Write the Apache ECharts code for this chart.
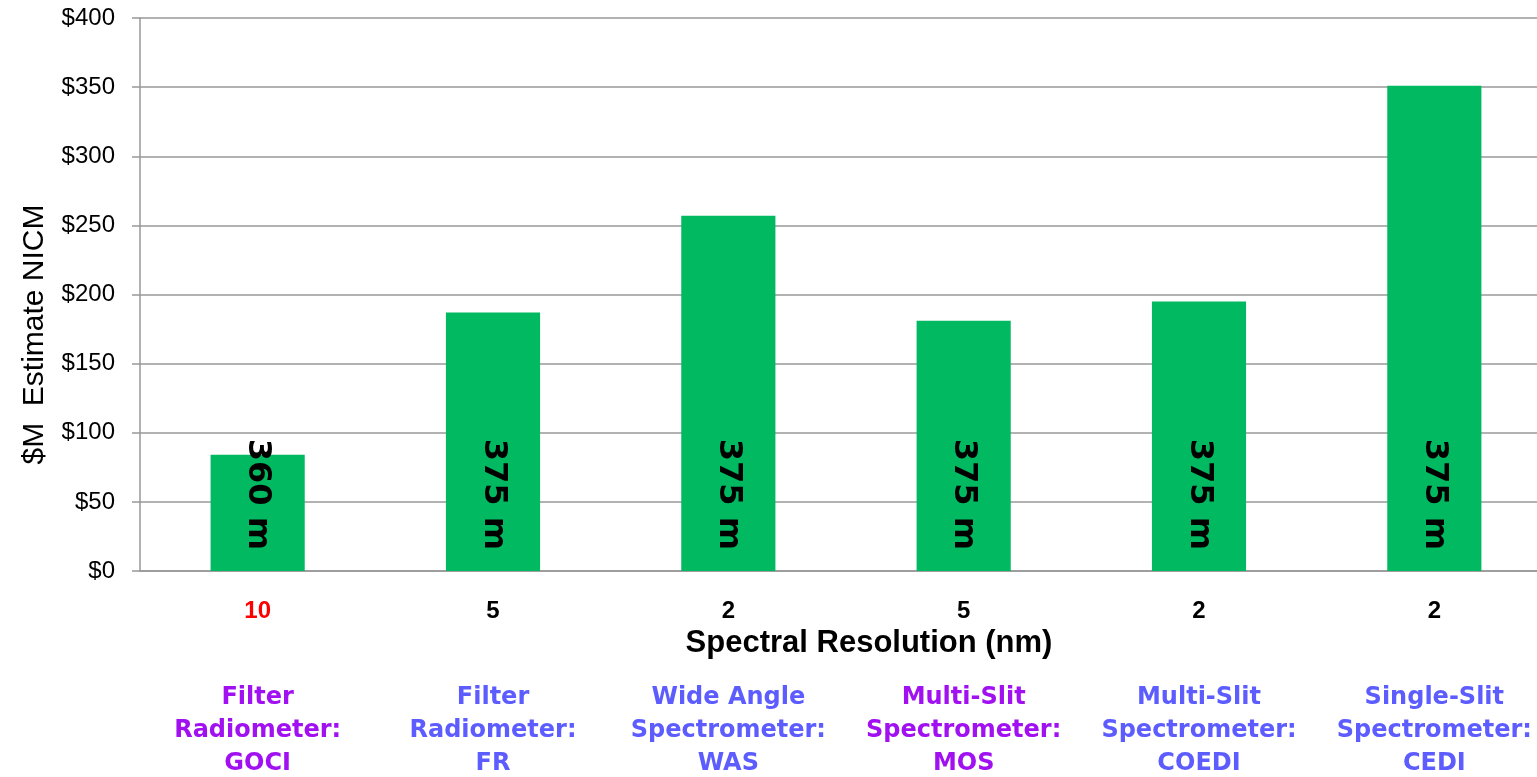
<!DOCTYPE html>
<html>
<head>
<meta charset="utf-8">
<script src="https://cdn.jsdelivr.net/npm/echarts@6/dist/echarts.min.js"></script>
<style>
  html, body { margin: 0; padding: 0; background: #fff; }
  #chart { width: 1537px; height: 777px; }
</style>
</head>
<body>
<div id="chart"></div>
<script>
const resolution = ["10", "5", "2", "5", "2", "2"];
const instruments = [
  "Filter\nRadiometer:\nGOCI",
  "Filter\nRadiometer:\nFR",
  "Wide Angle\nSpectrometer:\nWAS",
  "Multi-Slit\nSpectrometer:\nMOS",
  "Multi-Slit\nSpectrometer:\nCOEDI",
  "Single-Slit\nSpectrometer:\nCEDI",
];
const costs = [84, 187, 257, 181, 195, 351];
const swath = ["360 m", "375 m", "375 m", "375 m", "375 m", "375 m"];

const FONT = "DejaVu Sans, Verdana, sans-serif";
const FONT_NARROW = "Liberation Sans, Arial, sans-serif";
const GRID_COLOR = "#989898";
const BAR_COLOR = "#00B960";
// label colours per category
const resColors = ["#FF0000", "#000", "#000", "#000", "#000", "#000"];
const instColors = ["#A010F0", "#5C5CFF", "#5C5CFF", "#A010F0", "#5C5CFF", "#5C5CFF"];

const chart = echarts.init(document.getElementById("chart"), null, { renderer: "canvas" });

chart.setOption({
  animation: false,
  grid: { top: 18, bottom: 206, left: 140, right: -15, outerBoundsMode: "none" },
  xAxis: [
    {
      type: "category",
      data: resolution,
      name: "Spectral Resolution (nm)",
      nameLocation: "middle",
      nameGap: 55,
      nameTextStyle: {
        fontFamily: FONT_NARROW, fontSize: 31, fontWeight: "bold", color: "#000",
        padding: [0, 0, 0, 46],
      },
      axisLine: { lineStyle: { color: GRID_COLOR, width: 1.5 } },
      axisTick: { show: false },
      axisLabel: {
        margin: 28,
        fontFamily: FONT_NARROW, fontSize: 24, fontWeight: "bold",
        color: (v, i) => resColors[i],
      },
    },
    {
      type: "category",
      position: "bottom",
      offset: 100,
      data: instruments,
      axisLine: { show: false },
      axisTick: { show: false },
      axisLabel: {
        margin: 10,
        interval: 0,
        fontFamily: FONT, fontSize: 24, fontWeight: "bold", lineHeight: 33,
        color: (v, i) => instColors[i],
      },
    },
  ],
  yAxis: {
    type: "value",
    min: 0,
    max: 400,
    interval: 50,
    name: "$M  Estimate NICM",
    nameLocation: "middle",
    nameGap: 90,
    nameTextStyle: {
      fontFamily: FONT_NARROW, fontSize: 30, color: "#000",
      padding: [0, 80, 0, 0],
    },
    axisLine: { show: true, lineStyle: { color: GRID_COLOR, width: 1.5 } },
    axisTick: { show: true, length: 8, lineStyle: { color: GRID_COLOR, width: 1.5 } },
    splitLine: { lineStyle: { color: GRID_COLOR, width: 1.5 } },
    axisLabel: {
      margin: 25,
      fontFamily: FONT_NARROW, fontSize: 24, color: "#000",
      formatter: (v) => "$" + v,
    },
  },
  series: [
    {
      type: "bar",
      xAxisIndex: 0,
      data: costs,
      barWidth: "40%",
      itemStyle: { color: BAR_COLOR },
      label: {
        show: true,
        position: "insideBottom",
        distance: 21,
        rotate: -90,
        align: "right",
        verticalAlign: "middle",
        fontFamily: FONT, fontSize: 32, fontWeight: "bold", color: "#000",
        formatter: (p) => swath[p.dataIndex],
      },
    },
  ],
});
</script>
</body>
</html>
